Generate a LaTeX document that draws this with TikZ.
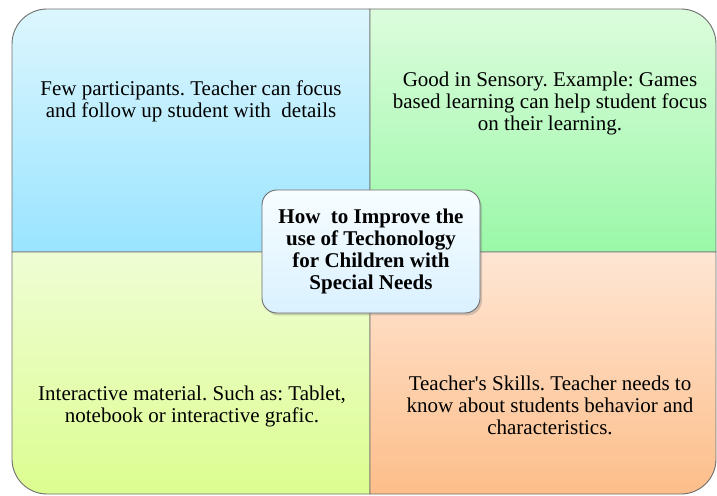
\documentclass[tikz,border=0pt]{standalone}
\usepackage{fontspec}
\setmainfont{Liberation Serif}[Ligatures=TeXOff]
\usetikzlibrary{shadows}
\definecolor{cyantop}{HTML}{DDF6FE}
\definecolor{cyanbot}{HTML}{99E4FF}
\definecolor{greentop}{HTML}{DCFCDC}
\definecolor{greenbot}{HTML}{9AF8A8}
\definecolor{limetop}{HTML}{EFFDD5}
\definecolor{limebot}{HTML}{DCFD90}
\definecolor{peachtop}{HTML}{FEE6D4}
\definecolor{peachbot}{HTML}{FDBE8A}
\definecolor{topictop}{HTML}{F7FDFF}
\definecolor{topicbot}{HTML}{DAF1FF}
\definecolor{edge}{HTML}{6E6E6E}

\begin{document}
\frenchspacing
\begin{tikzpicture}[x=1pt, y=1pt,
  quad/.style={draw=edge, line width=0.9pt},
  blurb/.style={align=center, font=\fontsize{21}{22}\selectfont},
  topic/.style={draw=edge, line width=0.9pt, rounded corners=15pt,
    top color=topictop, bottom color=topicbot,
    minimum width=218pt, minimum height=123pt, align=center,
    font=\fontsize{21}{22}\selectfont\bfseries,
    drop shadow={shadow xshift=2pt, shadow yshift=-2.5pt, opacity=0.35}}]
  \useasboundingbox (0,0) rectangle (717,495);
  %% Four quadrants, each with one rounded outer corner
  \shade[quad, top color=cyantop, bottom color=cyanbot]
    (12,243) -- (12,451) arc[start angle=180, end angle=90, radius=35pt] -- (370,486) -- (370,243) -- cycle;
  \shade[quad, top color=greentop, bottom color=greenbot]
    (370,243) -- (370,486) -- (681,486) arc[start angle=90, end angle=0, radius=35pt] -- (716,243) -- cycle;
  \shade[quad, top color=limetop, bottom color=limebot]
    (12,243) -- (12,36) arc[start angle=180, end angle=270, radius=35pt] -- (370,1) -- (370,243) -- cycle;
  \shade[quad, top color=peachtop, bottom color=peachbot]
    (370,243) -- (370,1) -- (681,1) arc[start angle=270, end angle=360, radius=35pt] -- (716,243) -- cycle;
  %% Quadrant texts
  \node[blurb] (few) at (191,394) {Few participants. Teacher can focus\\and follow up student with~ details};
  \node[blurb] (sensory) at (550,392) {Good in Sensory. Example: Games\\based learning can help student focus\\on their learning.};
  \node[blurb] (material) at (192,89) {Interactive material. Such as: Tablet,\\notebook or interactive grafic.};
  \node[blurb] (skills) at (550,90) {Teacher's Skills. Teacher needs to\\know about students behavior and\\characteristics.};
  %% Central topic
  \node[topic] (main) at (371,243.5) {How~ to Improve the\\use of Techonology\\for Children with\\Special Needs};
\end{tikzpicture}
\end{document}
